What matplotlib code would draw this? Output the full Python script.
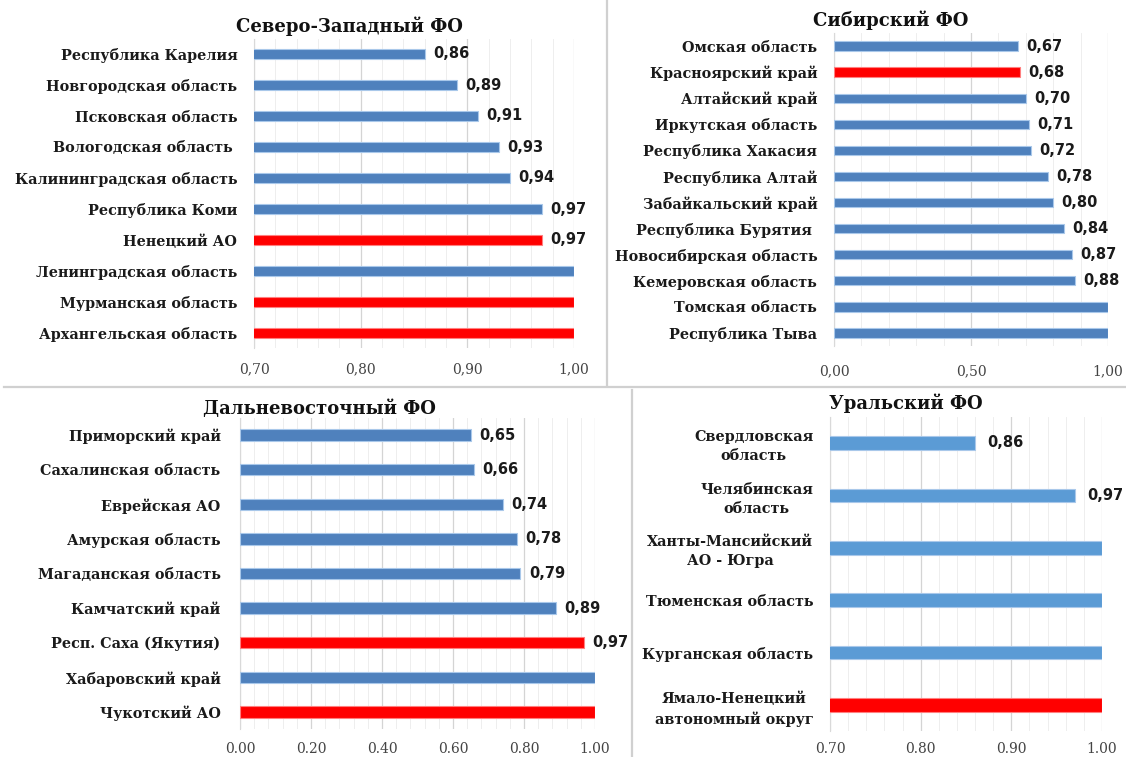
import matplotlib
matplotlib.use("Agg")
import matplotlib.pyplot as plt
from matplotlib.lines import Line2D
from matplotlib.ticker import MultipleLocator, FuncFormatter
import numpy as np

# --- data -------------------------------------------------------------
nw_title = "Северо-Западный ФО"
nw_regions = ["Республика Карелия", "Новгородская область", "Псковская область",
              "Вологодская область ", "Калининградская область", "Республика Коми",
              "Ненецкий АО", "Ленинградская область", "Мурманская область",
              "Архангельская область"]
nw_values = [0.86, 0.89, 0.91, 0.93, 0.94, 0.97, 0.97, 1.00, 1.00, 1.00]
nw_red = ["Ненецкий АО", "Мурманская область", "Архангельская область"]

sib_title = "Сибирский ФО"
sib_regions = ["Омская область", "Красноярский край", "Алтайский край",
               "Иркутская область", "Республика Хакасия", "Республика Алтай",
               "Забайкальский край", "Республика Бурятия ", "Новосибирская область",
               "Кемеровская область", "Томская область", "Республика Тыва"]
sib_values = [0.67, 0.68, 0.70, 0.71, 0.72, 0.78, 0.80, 0.84, 0.87, 0.88, 1.00, 1.00]
sib_red = ["Красноярский край"]

fe_title = "Дальневосточный ФО"
fe_regions = ["Приморский край", "Сахалинская область", "Еврейская АО",
              "Амурская область", "Магаданская область", "Камчатский край",
              "Респ. Саха (Якутия)", "Хабаровский край", "Чукотский АО"]
fe_values = [0.65, 0.66, 0.74, 0.78, 0.79, 0.89, 0.97, 1.00, 1.00]
fe_red = ["Респ. Саха (Якутия)", "Чукотский АО"]

ural_title = "Уральский ФО"
ural_regions = ["Свердловская\nобласть", "Челябинская\nобласть",
                "Ханты-Мансийский\nАО - Югра", "Тюменская область",
                "Курганская область", "Ямало-Ненецкий\nавтономный округ"]
ural_values = [0.86, 0.97, 1.00, 1.00, 1.00, 1.00]
ural_red = ["Ямало-Ненецкий\nавтономный округ"]

# --- styling ----------------------------------------------------------
W, H = 1126, 757
BLUE = "#4f81bd"
BLUE_LIGHT = "#5b9bd5"
RED = "#ff0000"
SERIF = "DejaVu Serif"

fig = plt.figure(figsize=(W / 100, H / 100), dpi=100)
fig.patch.set_facecolor("white")


def px_axes(x0, x1, y0, y1):
    """Axes from pixel box (top-left origin)."""
    return fig.add_axes([x0 / W, 1 - y1 / H, (x1 - x0) / W, (y1 - y0) / H])


def panel(ax, title, regions, values, red, xmin, xmax, major, minor,
          decimal, blue, bar_h, title_xy, tick_pad, label_pad, value_off=6):
    n = len(regions)
    y = np.arange(n)
    colors = [RED if r in red else blue for r in regions]
    edges = ["#ff8080" if r in red else "#a9c8ea" for r in regions]
    ax.barh(y, values, height=bar_h, color=colors, edgecolor=edges,
            linewidth=0.8, zorder=3)
    ax.set_ylim(n - 0.5, -0.5)
    ax.set_xlim(xmin, xmax)
    ax.set_yticks(y)
    ax.set_yticklabels(regions, fontfamily=SERIF, fontweight="bold",
                       fontsize=10.4, color="#1a1a1a", multialignment="center",
                       linespacing=1.45)
    ax.xaxis.set_major_locator(MultipleLocator(major))
    ax.xaxis.set_minor_locator(MultipleLocator(minor))
    ax.xaxis.set_major_formatter(
        FuncFormatter(lambda v, _: f"{v:.2f}".replace(".", decimal)))
    for lab in ax.get_xticklabels():
        lab.set_fontfamily("DejaVu Serif")
        lab.set_fontsize(10)
        lab.set_color("#444444")
    ax.tick_params(axis="both", which="both", length=0)
    ax.tick_params(axis="x", pad=tick_pad)
    ax.tick_params(axis="y", pad=label_pad)
    ax.grid(axis="x", which="major", color="#d4d4d4", linewidth=0.9, zorder=0)
    ax.grid(axis="x", which="minor", color="#ebebeb", linewidth=0.6, zorder=0)
    for s in ("top", "right", "bottom"):
        ax.spines[s].set_visible(False)
    ax.spines["left"].set_color("#d9d9d9")
    ax.spines["left"].set_linewidth(0.8)
    for yi, v in zip(y, values):
        if v < xmax - 1e-9:
            ax.annotate(f"{v:.2f}".replace(".", ","), (v, yi),
                        xytext=(value_off, 0), textcoords="offset points",
                        va="center", ha="left", fontsize=10.5,
                        fontweight="bold", fontfamily="DejaVu Sans",
                        color="#1a1a1a", annotation_clip=False)
    fig.text(title_xy[0] / W, 1 - title_xy[1] / H, title, ha="center",
             va="center", fontfamily=SERIF, fontweight="bold", fontsize=13,
             color="#111111")


ax1 = px_axes(254, 574, 38.5, 348.5)
panel(ax1, nw_title, nw_regions, nw_values, nw_red, 0.70, 1.00, 0.10, 0.02,
      ",", BLUE, 0.33, (349, 26), 10, 12)

ax2 = px_axes(834, 1108, 33, 346)
panel(ax2, sib_title, sib_regions, sib_values, sib_red, 0.0, 1.0, 0.5, 0.1,
      ",", BLUE, 0.36, (891, 20), 13, 12)

ax3 = px_axes(240, 595, 417.7, 729.3)
panel(ax3, fe_title, fe_regions, fe_values, fe_red, 0.0, 1.0, 0.2, 0.04,
      ".", BLUE, 0.33, (319, 409), 9, 14)

ax4 = px_axes(830, 1102, 416.8, 731.2)
panel(ax4, ural_title, ural_regions, ural_values, ural_red, 0.70, 1.00, 0.10,
      0.02, ".", BLUE_LIGHT, 0.26, (906, 403), 8, 12, value_off=9)

# panel separators
sep = dict(color="#d0d0d0", linewidth=1.6, transform=fig.transFigure)
fig.add_artist(Line2D([607 / W, 607 / W], [1, 1 - 385 / H], **sep))
fig.add_artist(Line2D([4 / W, 1], [1 - 387 / H, 1 - 387 / H], **sep))
fig.add_artist(Line2D([632 / W, 632 / W], [1 - 390 / H, 0], **sep))

fig.savefig("out.png", dpi=100, facecolor="white")
